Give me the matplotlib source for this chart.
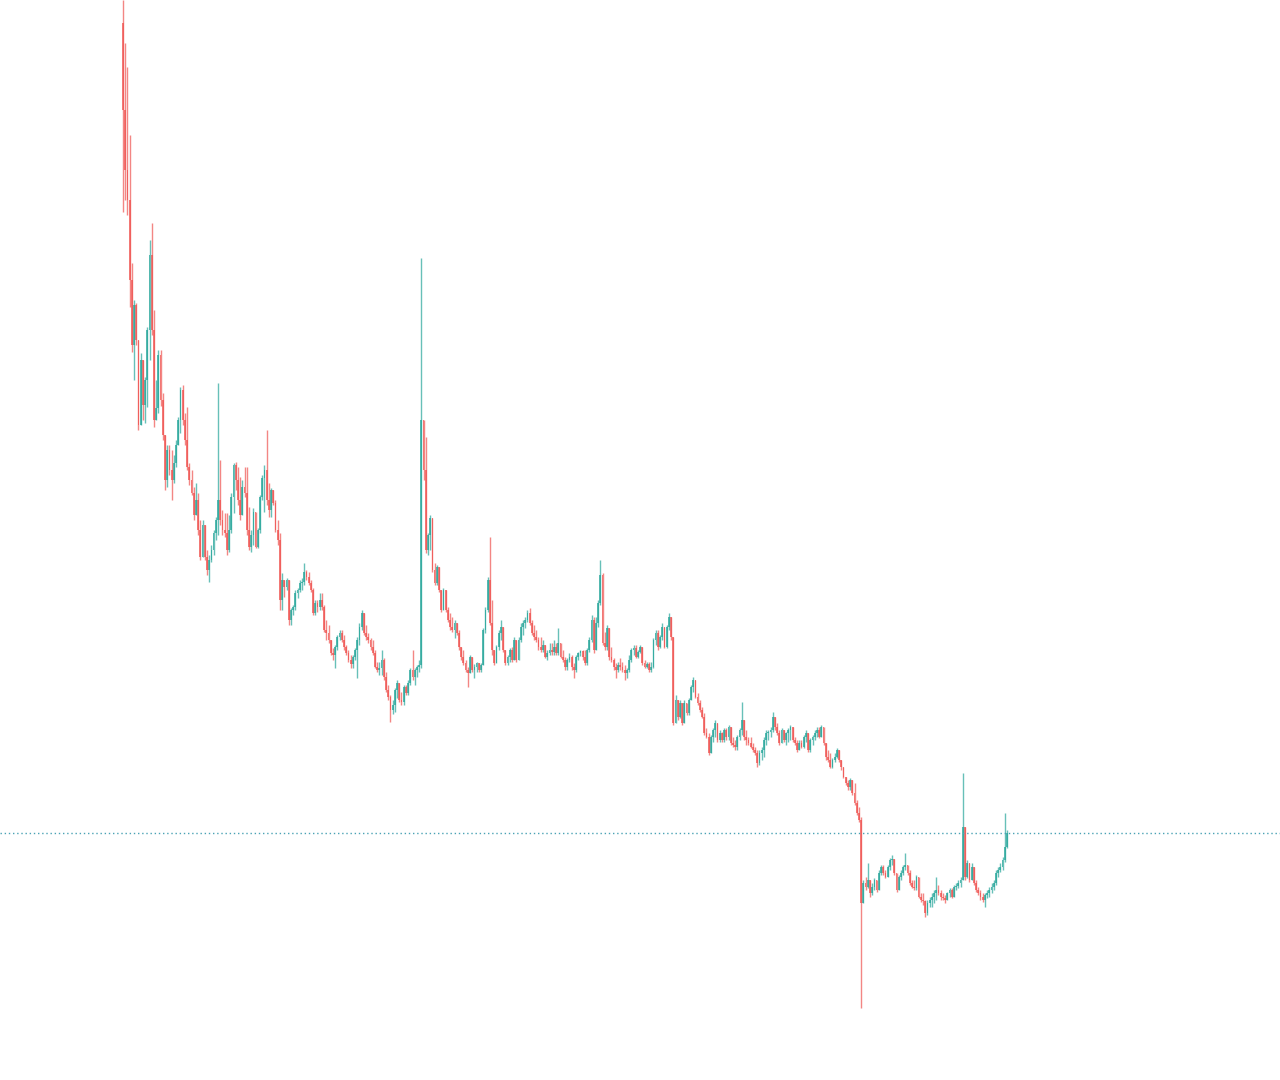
import numpy as np
import matplotlib
matplotlib.use("Agg")
import matplotlib.pyplot as plt

# OHLC (open = previous close)
first_open = 1057
closes = [
    970, 910, 880, 800, 735, 775, 740, 655, 720, 675,
    700, 750, 825, 750, 660, 672, 725, 680, 645, 600,
    630, 610, 600, 617, 635, 660, 690, 660, 640, 613,
    600, 587, 565, 580, 550, 523, 555, 523, 510, 520,
    530, 547, 560, 580, 560, 550, 547, 530, 550, 583,
    615, 600, 580, 565, 593, 587, 550, 533, 545, 568,
    533, 550, 583, 602, 610, 580, 570, 590, 577, 550,
    540, 480, 500, 493, 500, 460, 470, 473, 487, 490,
    497, 498, 508, 503, 497, 490, 467, 477, 473, 480,
    473, 450, 447, 440, 427, 425, 433, 443, 447, 440,
    433, 427, 420, 416, 423, 430, 440, 453, 467, 447,
    443, 440, 433, 427, 413, 410, 412, 420, 403, 390, 383,
    370, 375, 390, 397, 380, 378, 393, 387, 397, 410, 403,
    410, 413, 415, 660, 610, 530, 545, 562, 510, 497,
    513, 490, 470, 490, 470, 460, 453, 450, 457, 447,
    433, 423, 417, 410, 407, 423, 410, 413, 417, 410,
    415, 450, 470, 500, 457, 430, 417, 433, 447, 453,
    430, 417, 423, 430, 420, 440, 420, 440, 453, 457,
    460, 467, 457, 447, 443, 440, 433, 430, 435, 423,
    427, 430, 428, 433, 427, 437, 423, 420, 413, 420,
    423, 413, 410, 423, 427, 429, 423, 417, 430, 440,
    460, 430, 457, 477, 505, 437, 433, 452, 423, 420,
    413, 410, 415, 413, 410, 407, 410, 420, 430, 432,
    423, 428, 433, 417, 413, 416, 410, 413, 440, 447,
    433, 443, 453, 433, 453, 463, 443, 357, 380, 363,
    377, 357, 377, 367, 380, 393, 400, 383, 377, 370,
    363, 347, 343, 327, 343, 350, 357, 340, 347, 340,
    350, 343, 353, 337, 335, 333, 343, 350, 360, 343,
    340, 337, 333, 330, 327, 317, 327, 330, 340, 347,
    348, 350, 363, 353, 347, 337, 350, 340, 347, 350,
    353, 340, 337, 330, 337, 333, 343, 347, 330, 340,
    343, 347, 350, 343, 353, 337, 323, 320, 313, 320,
    323, 330, 320, 313, 303, 297, 293, 300, 287, 277,
    267, 260, 177, 197, 193, 200, 187, 193, 200, 190,
    207, 213, 207, 203, 213, 220, 221, 207, 190, 203,
    207, 213, 215, 207, 197, 193, 192, 203, 183, 180,
    179, 167, 177, 180, 183, 187, 190, 187, 183, 182,
    180, 187, 190, 183, 193, 194, 197, 200, 253, 203,
    217, 200, 213, 197, 190, 187, 183, 180, 185, 187,
    190, 193, 197, 207, 210, 213, 220, 233, 247,
]
highs = [
    1080, 1037, 1013, 945, 817, 780, 777, 740, 727, 720,
    703, 753, 840, 857, 770, 700, 730, 730, 687, 640,
    635, 635, 630, 625, 640, 663, 693, 695, 667, 673,
    617, 610, 593, 597, 587, 560, 560, 550, 530, 525,
    535, 550, 563, 697, 620, 570, 567, 567, 565, 587,
    617, 618, 613, 603, 600, 613, 613, 573, 550, 572,
    560, 552, 585, 605, 615, 650, 597, 592, 585, 580,
    560, 547, 507, 500, 502, 497, 472, 475, 490, 492,
    500, 502, 517, 510, 508, 500, 492, 480, 480, 487,
    487, 475, 460, 455, 440, 432, 435, 445, 450, 450,
    445, 435, 430, 425, 425, 432, 443, 457, 470, 467,
    455, 447, 442, 440, 430, 418, 418, 430, 422, 408, 395,
    385, 380, 392, 400, 397, 388, 395, 395, 400, 412, 430,
    412, 415, 420, 822, 660, 643, 547, 565, 537, 517,
    515, 497, 483, 492, 480, 473, 467, 463, 460, 457,
    450, 433, 430, 420, 413, 425, 423, 416, 418, 417,
    417, 452, 473, 503, 543, 480, 430, 435, 450, 460,
    450, 430, 425, 432, 433, 443, 440, 443, 457, 460,
    463, 470, 472, 460, 455, 450, 443, 443, 440, 435,
    430, 437, 437, 440, 437, 452, 437, 430, 423, 422,
    427, 425, 417, 425, 428, 430, 430, 430, 432, 443,
    465, 463, 463, 480, 520, 507, 448, 455, 452, 433,
    422, 417, 418, 422, 418, 415, 412, 425, 432, 435,
    435, 430, 435, 433, 420, 418, 418, 418, 442, 450,
    450, 445, 457, 453, 455, 467, 463, 443, 385, 380,
    380, 377, 380, 377, 382, 395, 403, 400, 387, 380,
    373, 367, 352, 347, 345, 352, 360, 357, 350, 348,
    352, 352, 355, 353, 343, 340, 345, 352, 378, 360,
    350, 343, 343, 337, 333, 330, 330, 333, 343, 350,
    350, 353, 368, 363, 357, 350, 352, 350, 348, 352,
    355, 353, 343, 340, 340, 340, 345, 350, 347, 342,
    345, 350, 353, 353, 355, 353, 337, 330, 327, 322,
    327, 332, 330, 320, 313, 303, 300, 302, 300, 297,
    280, 273, 263, 200, 203, 217, 200, 197, 202, 200,
    210, 215, 215, 210, 215, 222, 225, 220, 207, 205,
    210, 215, 227, 215, 210, 200, 200, 205, 203, 187,
    187, 180, 180, 183, 187, 190, 203, 195, 190, 187,
    185, 188, 192, 192, 195, 197, 200, 203, 307, 253,
    220, 217, 217, 213, 200, 193, 190, 187, 187, 190,
    193, 197, 200, 210, 213, 217, 223, 267, 250,
]
lows = [
    868, 880, 865, 773, 728, 700, 735, 650, 665, 660,
    657, 673, 720, 745, 653, 668, 667, 674, 640, 590,
    593, 605, 580, 597, 613, 640, 647, 655, 635, 610,
    595, 585, 560, 575, 545, 520, 532, 520, 505, 498,
    518, 525, 540, 545, 555, 545, 543, 525, 528, 547,
    567, 590, 575, 560, 573, 583, 545, 530, 528, 535,
    532, 532, 547, 580, 568, 575, 563, 563, 575, 548,
    535, 470, 470, 483, 490, 455, 455, 465, 470, 482,
    488, 490, 495, 500, 495, 488, 465, 465, 468, 470,
    470, 448, 440, 437, 425, 420, 412, 430, 440, 438,
    430, 425, 418, 412, 412, 420, 402, 435, 450, 445,
    440, 437, 430, 425, 412, 408, 405, 405, 400, 388, 380,
    358, 366, 368, 382, 378, 375, 375, 385, 385, 395, 400,
    395, 403, 408, 412, 600, 527, 525, 530, 508, 495,
    495, 488, 468, 470, 468, 458, 450, 448, 442, 445,
    430, 420, 415, 408, 393, 407, 408, 402, 408, 408,
    408, 415, 447, 468, 455, 425, 415, 420, 430, 440,
    428, 415, 415, 418, 418, 420, 418, 420, 438, 445,
    452, 458, 455, 445, 440, 438, 430, 428, 428, 422,
    420, 425, 425, 425, 425, 425, 422, 418, 410, 410,
    418, 410, 402, 408, 420, 424, 420, 415, 415, 428,
    438, 427, 430, 453, 475, 435, 430, 430, 420, 418,
    410, 402, 408, 410, 408, 400, 402, 408, 418, 425,
    422, 422, 427, 415, 412, 412, 408, 408, 412, 435,
    430, 432, 440, 432, 432, 450, 440, 355, 358, 360,
    362, 355, 360, 365, 365, 380, 388, 382, 375, 368,
    362, 345, 342, 325, 328, 338, 343, 338, 338, 338,
    338, 340, 340, 335, 333, 330, 330, 340, 345, 340,
    335, 335, 332, 328, 325, 313, 315, 320, 323, 335,
    340, 343, 348, 350, 345, 335, 338, 338, 335, 338,
    340, 338, 335, 328, 330, 332, 332, 338, 328, 328,
    335, 340, 343, 342, 343, 335, 320, 318, 312, 312,
    318, 322, 318, 310, 302, 295, 290, 290, 285, 275,
    265, 258, 72, 177, 190, 192, 183, 185, 190, 188,
    195, 205, 205, 202, 205, 210, 215, 205, 188, 190,
    200, 205, 210, 205, 195, 192, 190, 190, 182, 178,
    175, 163, 165, 173, 173, 177, 180, 185, 180, 180,
    177, 180, 183, 182, 183, 190, 192, 193, 200, 200,
    202, 198, 200, 195, 188, 185, 180, 178, 173, 182,
    183, 187, 190, 195, 203, 208, 210, 218, 232,
]

UP = "#26a69a"
DOWN = "#ef5350"

closes = np.array(closes, dtype=float)
opens = np.concatenate([[first_open], closes[:-1]])
highs = np.maximum(np.array(highs, dtype=float), np.maximum(opens, closes))
lows = np.minimum(np.array(lows, dtype=float), np.minimum(opens, closes))
n = len(closes)
idx = np.arange(n)
up = closes >= opens
colors = np.where(up, UP, DOWN)

fig = plt.figure(figsize=(12.8, 10.8), dpi=100)
ax = fig.add_axes([0, 0, 1, 1])
ax.set_facecolor("white")

# wicks
ax.vlines(idx, lows, highs, colors=colors, linewidth=1.0, alpha=0.7)
# bodies
body_h = np.maximum(np.abs(closes - opens), 1.0)
ax.bar(idx, body_h, bottom=np.minimum(opens, closes), width=0.8,
       color=colors, edgecolor="none", alpha=0.75)

# last price line
ax.axhline(closes[-1], color="#4aa3b5", linestyle=(0, (1, 2)), linewidth=1.0)

step = 884 / (n - 1)
ax.set_xlim(-123 / step, (1280 - 123) / step)
ax.set_ylim(0, 1080)
ax.axis("off")

fig.savefig("out.png", dpi=100, facecolor="white")
